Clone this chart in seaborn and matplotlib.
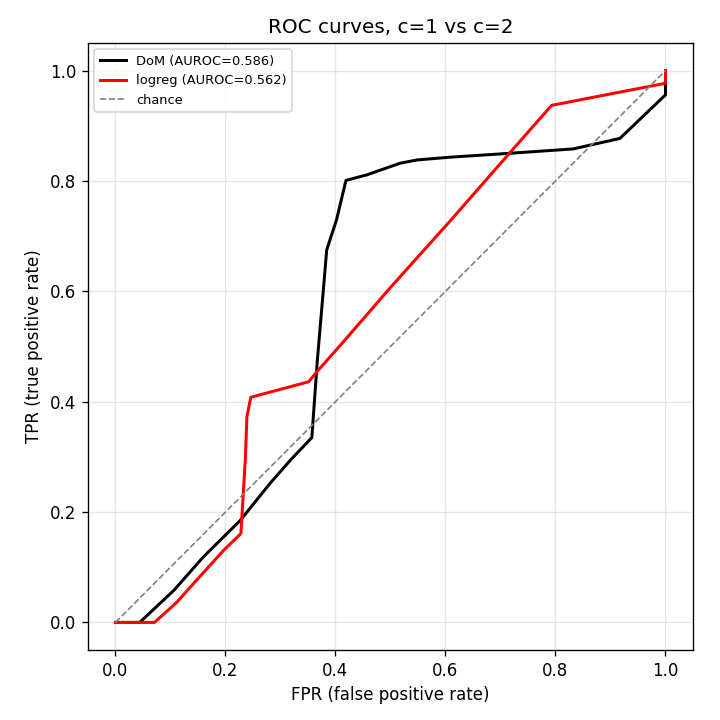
import matplotlib
matplotlib.use("Agg")
import matplotlib.pyplot as plt
import seaborn as sns
import pandas as pd

dom_fpr = [0.0, 0.044, 0.106, 0.160, 0.227, 0.281, 0.318, 0.357, 0.367, 0.379, 0.384,
           0.402, 0.419, 0.457, 0.517, 0.548, 0.608, 0.700, 0.832, 0.917, 1.0, 1.0]
dom_tpr = [0.0, 0.0, 0.058, 0.119, 0.185, 0.252, 0.294, 0.335, 0.475, 0.615, 0.675,
           0.730, 0.801, 0.811, 0.832, 0.838, 0.843, 0.849, 0.858, 0.877, 0.956, 1.0]

lr_fpr = [0.0, 0.071, 0.112, 0.136, 0.197, 0.228, 0.236, 0.239, 0.246, 0.351, 0.366,
          0.420, 0.500, 0.608, 0.717, 0.793, 1.0, 1.0]
lr_tpr = [0.0, 0.0, 0.037, 0.064, 0.131, 0.161, 0.294, 0.373, 0.408, 0.436, 0.454,
          0.515, 0.607, 0.727, 0.851, 0.937, 0.977, 1.0]

chance = [0.0, 1.0]

labels = ["DoM (AUROC=0.586)", "logreg (AUROC=0.562)", "chance"]

fig, ax = plt.subplots(figsize=(6, 6), dpi=120)

sns.lineplot(x=dom_fpr, y=dom_tpr, sort=False, estimator=None, color="black",
             linewidth=1.8, label=labels[0], ax=ax)
sns.lineplot(x=lr_fpr, y=lr_tpr, sort=False, estimator=None, color="red",
             linewidth=1.8, label=labels[1], ax=ax)
sns.lineplot(x=chance, y=chance, sort=False, estimator=None, color="gray",
             linewidth=1, linestyle="--", label=labels[2], ax=ax)

ax.set_xlabel("FPR (false positive rate)")
ax.set_ylabel("TPR (true positive rate)")
ax.set_title("ROC curves, c=1 vs c=2")
ax.grid(alpha=0.3)
ax.legend(loc="upper left", fontsize=7.8)
fig.subplots_adjust(left=0.1222, right=0.9625, top=0.9403, bottom=0.0972)
fig.savefig("out.png", dpi=120)
